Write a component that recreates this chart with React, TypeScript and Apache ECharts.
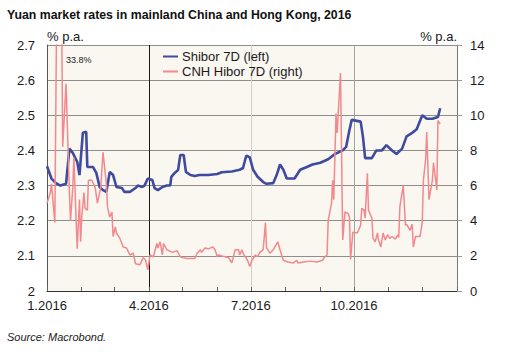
import React, { useEffect, useRef } from "react";
import * as echarts from "echarts";

const titleText = "Yuan market rates in mainland China and Hong Kong, 2016";
const sourceText = "Source: Macrobond.";
const seriesNames = ["Shibor 7D (left)", "CNH Hibor 7D (right)"];
const annotationText = "33.8%";

const shiborDates = [
  "2016-01-01", "2016-01-05", "2016-01-09", "2016-01-13", "2016-01-18", "2016-01-21", "2016-01-24", "2016-01-28",
  "2016-01-30", "2016-02-02", "2016-02-05", "2016-02-06", "2016-02-11", "2016-02-14", "2016-02-17", "2016-02-20",
  "2016-02-23", "2016-02-26", "2016-02-29", "2016-03-03", "2016-03-08", "2016-03-10", "2016-03-15", "2016-03-20",
  "2016-03-22", "2016-03-26", "2016-03-28", "2016-03-31", "2016-04-04", "2016-04-06", "2016-04-09", "2016-04-13",
  "2016-04-17", "2016-04-20", "2016-04-21", "2016-04-24", "2016-04-27", "2016-04-29", "2016-05-02", "2016-05-04",
  "2016-05-08", "2016-05-12", "2016-05-16", "2016-05-24", "2016-06-01", "2016-06-05", "2016-06-14", "2016-06-21",
  "2016-06-24", "2016-06-26", "2016-06-27", "2016-06-30", "2016-07-03", "2016-07-07", "2016-07-12", "2016-07-15",
  "2016-07-21", "2016-07-24", "2016-07-27", "2016-07-30", "2016-08-02", "2016-08-09", "2016-08-14", "2016-08-20",
  "2016-08-25", "2016-09-01", "2016-09-08", "2016-09-14", "2016-09-21", "2016-09-24", "2016-09-27", "2016-09-29",
  "2016-10-07", "2016-10-09", "2016-10-11", "2016-10-17", "2016-10-21", "2016-10-26", "2016-10-30", "2016-11-04",
  "2016-11-08", "2016-11-13", "2016-11-17", "2016-11-22", "2016-11-26", "2016-12-01", "2016-12-05", "2016-12-10",
  "2016-12-15", "2016-12-17",
];
const shiborValues = [
  2.355, 2.32, 2.307, 2.3, 2.305, 2.405, 2.393, 2.367,
  2.33, 2.45, 2.453, 2.353, 2.353, 2.336, 2.296, 2.287,
  2.282, 2.339, 2.33, 2.296, 2.293, 2.282, 2.282, 2.293,
  2.3, 2.296, 2.3, 2.32, 2.316, 2.293, 2.287, 2.296,
  2.3, 2.3, 2.325, 2.336, 2.344, 2.387, 2.387, 2.339,
  2.33, 2.327, 2.33, 2.33, 2.333, 2.338, 2.34, 2.345,
  2.35, 2.375, 2.385, 2.38, 2.345, 2.325, 2.31, 2.305,
  2.307, 2.33, 2.36, 2.345, 2.32, 2.32, 2.345, 2.353,
  2.36, 2.365, 2.375, 2.39, 2.4, 2.41, 2.458, 2.487,
  2.482, 2.44, 2.378, 2.378, 2.4, 2.4, 2.415, 2.4,
  2.39, 2.405, 2.44, 2.45, 2.46, 2.5, 2.49, 2.49,
  2.495, 2.52,
];

const cnhDates = [
  "2016-01-01", "2016-01-04", "2016-01-05", "2016-01-08", "2016-01-12", "2016-01-15", "2016-01-18", "2016-01-21",
  "2016-01-22", "2016-01-24", "2016-01-25", "2016-01-27", "2016-01-28", "2016-01-30", "2016-01-31", "2016-02-01",
  "2016-02-03", "2016-02-04", "2016-02-06", "2016-02-07", "2016-02-10", "2016-02-13", "2016-02-15", "2016-02-18",
  "2016-02-20", "2016-02-23", "2016-02-24", "2016-02-26", "2016-02-28", "2016-02-29", "2016-03-02", "2016-03-03",
  "2016-03-06", "2016-03-09", "2016-03-12", "2016-03-15", "2016-03-18", "2016-03-20", "2016-03-24", "2016-03-27",
  "2016-03-29", "2016-03-31", "2016-04-02", "2016-04-05", "2016-04-08", "2016-04-09", "2016-04-11", "2016-04-13",
  "2016-04-14", "2016-04-17", "2016-04-22", "2016-04-26", "2016-04-29", "2016-05-01", "2016-05-05", "2016-05-12",
  "2016-05-14", "2016-05-17", "2016-05-18", "2016-05-21", "2016-05-24", "2016-05-28", "2016-05-30", "2016-06-01",
  "2016-06-02", "2016-06-05", "2016-06-08", "2016-06-11", "2016-06-14", "2016-06-17", "2016-06-20", "2016-06-21",
  "2016-06-23", "2016-06-24", "2016-06-28", "2016-06-30", "2016-07-02", "2016-07-05", "2016-07-07", "2016-07-09",
  "2016-07-12", "2016-07-14", "2016-07-15", "2016-07-18", "2016-07-21", "2016-07-25", "2016-07-27", "2016-07-30",
  "2016-08-03", "2016-08-08", "2016-08-11", "2016-08-12", "2016-08-17", "2016-08-23", "2016-08-29", "2016-09-03",
  "2016-09-05", "2016-09-07", "2016-09-08", "2016-09-11", "2016-09-12", "2016-09-13", "2016-09-15", "2016-09-16",
  "2016-09-19", "2016-09-21", "2016-09-23", "2016-09-26", "2016-09-27", "2016-09-28", "2016-09-30", "2016-10-04",
  "2016-10-07", "2016-10-08", "2016-10-10", "2016-10-11", "2016-10-13", "2016-10-14", "2016-10-17", "2016-10-18",
  "2016-10-20", "2016-10-22", "2016-10-23", "2016-10-25", "2016-10-27", "2016-10-29", "2016-10-31", "2016-11-02",
  "2016-11-04", "2016-11-07", "2016-11-09", "2016-11-10", "2016-11-11", "2016-11-14", "2016-11-16", "2016-11-17",
  "2016-11-20", "2016-11-22", "2016-11-23", "2016-11-25", "2016-11-29", "2016-12-01", "2016-12-02", "2016-12-04",
  "2016-12-05", "2016-12-07", "2016-12-10", "2016-12-11", "2016-12-12", "2016-12-14", "2016-12-15", "2016-12-17",
];
const cnhValues = [
  5.0, 5.6, 6.1, 3.9, 33.8, 8.2, 11.8, 5.6,
  4.0, 5.9, 7.6, 4.0, 2.4, 5.2, 2.8, 4.2,
  5.6, 4.7, 4.6, 6.3, 6.3, 5.9, 5.0, 5.9,
  7.9, 6.1, 4.8, 4.2, 4.5, 3.1, 3.65, 3.3,
  3.0, 2.5, 2.45, 2.05, 2.15, 1.55, 1.5, 1.9,
  1.75, 1.2, 2.05, 1.95, 2.7, 2.45, 2.8, 2.05,
  2.7, 2.35, 2.2, 2.3, 1.95, 1.9, 1.85, 1.85,
  2.15, 2.35, 2.2, 2.45, 2.4, 2.5, 2.35, 1.95,
  2.05, 2.0, 1.95, 1.9, 1.6, 2.35, 2.35, 2.05,
  2.35, 2.15, 1.75, 1.4, 1.75, 2.05, 1.95, 2.2,
  2.35, 3.9, 2.45, 2.15, 2.35, 2.8, 2.35, 1.75,
  1.65, 1.6, 1.75, 1.6, 1.65, 1.7, 1.65, 1.75,
  1.95, 2.05, 4.0, 5.0, 6.3, 5.2, 10.1, 9.0,
  12.4, 2.9, 4.5, 4.4, 4.2, 1.8, 3.35, 3.3,
  3.75, 4.7, 4.6, 4.15, 6.7, 4.6, 4.15, 3.0,
  2.8, 3.3, 2.9, 2.5, 3.3, 2.9, 3.2, 3.0,
  3.1, 2.95, 3.2, 3.05, 4.8, 6.0, 3.75, 3.8,
  3.45, 3.8, 2.5, 3.1, 3.1, 3.9, 6.3, 7.5,
  9.05, 5.2, 6.3, 7.3, 6.8, 5.75, 9.7, 9.5,
];

const quarterStarts = ["2016-01-01", "2016-04-01", "2016-07-01", "2016-10-01"];
const quarterLines = ["2016-04-01", "2016-07-01", "2016-10-01"];
const leftTicks = { min: 2, max: 2.7, interval: 0.1 };
const rightTicks = { min: 0, max: 14, interval: 2 };

// All calendar days of 2016 plus 1 Jan 2017 (axis categories)
const categories: string[] = [];
{
  const start = Date.UTC(2016, 0, 1);
  const end = Date.UTC(2017, 0, 1);
  for (let t = start; t <= end; t += 86400000) {
    categories.push(new Date(t).toISOString().slice(0, 10));
  }
}

const FONT = "'Liberation Sans', Arial, Helvetica, sans-serif";

export default function App() {
  const ref = useRef<HTMLDivElement>(null);
  useEffect(() => {
    document.body.style.margin = "0";
    if (!ref.current) return;
    const chart = echarts.init(ref.current, undefined, { renderer: "svg" });
    const isMonthStart = (_i: number, v: string) => v.endsWith("-01");
    chart.setOption({
      animation: false,
      backgroundColor: "#ffffff",
      textStyle: { fontFamily: FONT },
      title: [
        {
          text: titleText,
          left: 7,
          top: 9,
          padding: 0,
          textStyle: { fontFamily: FONT, fontSize: 12.3, fontWeight: "bold", color: "#111" },
        },
        {
          text: sourceText,
          left: 7,
          top: 331,
          padding: 0,
          textStyle: { fontFamily: FONT, fontSize: 11, fontStyle: "italic", fontWeight: "normal", color: "#222" },
        },
      ],
      legend: {
        orient: "vertical",
        left: 163,
        top: 50,
        padding: 0,
        icon: "rect",
        itemWidth: 15,
        itemHeight: 2,
        itemGap: 2,
        textStyle: { fontFamily: FONT, fontSize: 13, color: "#1a1a1a", padding: [0, 0, 0, -1] },
        data: seriesNames,
      },
      grid: {
        left: 47,
        right: 53,
        top: 45,
        bottom: 61,
        show: true,
        backgroundColor: "#FAF6F0",
        borderWidth: 0,
        outerBoundsMode: "none",
      },
      xAxis: {
        type: "category",
        data: categories,
        boundaryGap: false,
        axisLine: { show: true, lineStyle: { color: "#333", width: 1 } },
        axisTick: {
          show: true,
          inside: true,
          length: 4,
          interval: isMonthStart,
          lineStyle: { color: "#666" },
        },
        axisLabel: {
          interval: (_i: number, v: string) => quarterStarts.includes(v),
          formatter: (v: string) => {
            const [y, m] = v.split("-");
            return `${+m}.${y}`;
          },
          fontFamily: FONT,
          fontSize: 13,
          color: "#1a1a1a",
          margin: 8,
        },
        splitLine: {
          show: true,
          interval: (_i: number, v: string) => quarterLines.includes(v),
          lineStyle: { color: ["#1a1a1a", "#d2cdc6", "#a3a3a3"], width: 1 },
        },
      },
      yAxis: [
        {
          type: "value",
          position: "left",
          min: leftTicks.min,
          max: leftTicks.max,
          interval: leftTicks.interval,
          name: "% p.a.",
          nameLocation: "end",
          nameGap: 2,
          nameTextStyle: { fontFamily: FONT, fontSize: 13, color: "#1a1a1a", align: "left", verticalAlign: "bottom" },
          axisLine: { show: true, lineStyle: { color: "#555" } },
          axisTick: { show: false },
          axisLabel: {
            fontFamily: FONT,
            fontSize: 13,
            color: "#1a1a1a",
            margin: 12,
            formatter: (v: number) => String(Math.round(v * 10) / 10),
          },
          splitLine: { show: true, lineStyle: { color: "#8e8e8e", width: 1 } },
        },
        {
          type: "value",
          position: "right",
          min: rightTicks.min,
          max: rightTicks.max,
          interval: rightTicks.interval,
          name: "% p.a.",
          nameLocation: "end",
          nameGap: 2,
          nameTextStyle: { fontFamily: FONT, fontSize: 13, color: "#1a1a1a", align: "right", verticalAlign: "bottom" },
          axisLine: { show: true, lineStyle: { color: "#777" } },
          axisTick: { show: true, inside: false, length: 5, lineStyle: { color: "#999" } },
          axisLabel: { fontFamily: FONT, fontSize: 13, color: "#1a1a1a", margin: 13 },
          splitLine: { show: false },
        },
      ],
      series: [
        {
          name: seriesNames[0],
          type: "line",
          yAxisIndex: 0,
          symbol: "none",
          data: shiborDates.map((d, i) => [d, shiborValues[i]]),
          lineStyle: { color: "#3E4B9F", width: 2.6 },
          itemStyle: { color: "#3E4B9F" },
          z: 3,
        },
        {
          name: seriesNames[1],
          type: "line",
          yAxisIndex: 1,
          symbol: "none",
          clip: true,
          data: cnhDates.map((d, i) => [d, cnhValues[i]]),
          lineStyle: { color: "#F2898D", width: 1.5 },
          itemStyle: { color: "#F2898D" },
          z: 4,
        },
      ],
      graphic: [
        {
          type: "text",
          left: 66,
          top: 55,
          style: { text: annotationText, fontFamily: FONT, fontSize: 9, fill: "#222" },
          z: 10,
        },
      ],
    });
    return () => chart.dispose();
  }, []);
  return <div ref={ref} style={{ width: 510, height: 352 }} />;
}
